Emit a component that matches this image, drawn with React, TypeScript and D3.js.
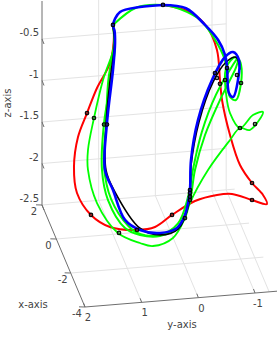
import React from "react";
import * as d3 from "d3";

type P = [number, number];

const xTicks = [2, 0, -2, -4];
const yTicks = [2, 1, 0, -1];
const zTicks = [-0.5, -1, -1.5, -2, -2.5];

// curves: [y-axis reading, z-axis reading] as seen in the view plane
const redCurve: P[] = [[1.517,-.331],[1.499,-.428],[1.57,-.789],[1.799,-1.09],[1.975,-1.392],[2.134,-1.681],[2.205,-2.042],[2.152,-2.355],[1.905,-2.62],[1.57,-2.765],[1.093,-2.801],[.776,-2.765],[.476,-2.62],[.071,-2.452],[-.317,-2.379],[-.582,-2.367],[-.935,-2.44],[-1.199,-2.488],[-1.129,-2.379],[-.935,-2.235],[-.723,-2.018],[-.547,-1.657],[-.406,-1.235],[-.37,-.994],[-.317,-.633],[-.141,-.355],[.159,-.175],[.635,-.09]];

const greenOuter: P[] = [[1.517,-.331],[1.481,-.548],[1.693,-.994],[1.852,-1.452],[1.958,-1.837],[1.958,-2.078],[1.799,-2.476],[1.429,-2.837],[1.041,-2.958],[.811,-2.994],[.459,-2.897],[.247,-2.657],[.159,-2.476],[-.159,-2.078],[-.547,-1.717],[-.723,-1.572],[-.899,-1.596],[-1.129,-1.379],[-.952,-1.416],[-.723,-1.572],[-.547,-1.392],[-.476,-1.151],[-.459,-.91],[-.494,-.825],[-.635,-.72],[-.705,-.77]];

const greenBandA: P[] = [[1.517,-.331],[1.481,-.548],[1.552,-.994],[1.675,-1.512],[1.711,-2.078],[1.605,-2.44],[1.305,-2.777],[1.041,-2.861],[.688,-2.873],[.335,-2.741],[.159,-2.44],[.071,-2.078],[-.106,-1.657],[-.37,-1.235],[-.635,-.873],[-.705,-.753],[-.741,-.81],[-.741,-1.03],[-.653,-1.235],[-.547,-1.199],[-.494,-.994],[-.476,-.8],[-.335,-.57],[-.018,-.27],[.335,-.14],[.635,-.09],[1.1,-.12],[1.517,-.331]];

const greenBandB: P[] = [[1.517,-.331],[1.499,-.55],[1.6,-1.0],[1.64,-1.512],[1.675,-2.042],[1.55,-2.43],[1.25,-2.75],[1.041,-2.85],[.688,-2.86],[.37,-2.72],[.2,-2.42],[.1,-2.05],[-.05,-1.62],[-.3,-1.17],[-.6,-.81],[-.68,-.73]];

const blackCurve: P[] = [[1.517,-.35],[1.49,-.55],[1.57,-1.0],[1.64,-1.54],[1.64,-2.08],[1.5,-2.32],[1.041,-2.78],[.688,-2.86],[.37,-2.79],[.175,-2.476],[.14,-2.02],[0,-1.5],[-.247,-1.02],[-.476,-.78],[-.653,-.72],[-.723,-.87]];

const blueCurve: P[] = [[.635,-.09],[.23,-.13],[-.106,-.33],[-.335,-.51],[-.459,-.69],[-.494,-.83],[-.529,-1.151],[-.6,-1.199],[-.688,-.994],[-.705,-.753],[-.6,-.657],[-.459,-.717],[-.229,-.994],[.018,-1.476],[.141,-1.958],[.159,-2.319],[.194,-2.476],[.247,-2.62],[.388,-2.777],[.688,-2.837],[1.041,-2.801],[1.305,-2.68],[1.517,-2.32],[1.658,-2.078],[1.623,-1.512],[1.517,-.873],[1.481,-.548],[1.49,-.4],[1.517,-.331],[1.393,-.175],[1.041,-.115],[.635,-.09]];

const nodes: P[] = [[1.517,-.331],[.635,-.09],[1.975,-1.392],[1.852,-1.452],[1.675,-1.53],[1.623,-1.53],[1.905,-2.62],[1.411,-2.837],[1.093,-2.801],[.476,-2.62],[.247,-2.657],[-.935,-2.44],[-.935,-2.235],[.159,-2.319],[.159,-2.355],[.159,-2.4],[.159,-2.44],[-.282,-.91],[-.317,-.97],[-.37,-1.04],[-.459,-.994],[-.494,-.85],[-.67,-.934],[-.741,-1.03],[-.723,-1.572],[-.988,-1.525]];

const curves = [
  { data: redCurve, color: "#ff0000", width: 2 },
  { data: greenOuter, color: "#00ff00", width: 1.8 },
  { data: greenBandA, color: "#00ff00", width: 2 },
  { data: greenBandB, color: "#00ff00", width: 2 },
  { data: blackCurve, color: "#000000", width: 1.6 },
  { data: blueCurve, color: "#0000ff", width: 2.6 },
];

// view-plane scales for the curves
const hScale = d3.scaleLinear().domain([0, 1]).range([199, 142.3]);
const vScale = d3.scaleLinear().domain([-0.5, -2.5]).range([39, 205]);

// box projection for the axes
const xStep = d3.scaleLinear().domain([2, -4]).range([0, 1]);
const yStep = d3.scaleLinear().domain([2, -1]).range([0, 1]);
const zStep = d3.scaleLinear().domain([-2.5, -0.5]).range([0, 1]);
const project = (x: number, y: number, z: number): P => [
  42 + 43 * xStep(x) + 170 * yStep(y) + 0 * zStep(z),
  205 + 102 * xStep(x) - 14 * yStep(y) - 166 * zStep(z),
];

const seg = (a: P, b: P, color: string, w: number, key: string) => (
  <line key={key} x1={a[0]} y1={a[1]} x2={b[0]} y2={b[1]} stroke={color} strokeWidth={w} />
);

const GRID = "#e3e3e3";
const AXIS = "#6e6e6e";
const TEXT = "#444444";
const zTop = -0.5 + 38 / 83;

export default function App() {
  const line = d3
    .line<P>()
    .x((d) => hScale(d[0]))
    .y((d) => vScale(d[1]))
    .curve(d3.curveCatmullRom.alpha(0.5));
  const xEdge = -1.0 / 6;
  return (
    <svg
      width={277}
      height={338}
      style={{ position: "absolute", left: 0, top: 0, background: "#fff" }}
      fontFamily="DejaVu Sans, sans-serif"
      fontSize={10}
    >
      <g>
        {zTicks.slice(0, 4).map((z) =>
          seg(project(2, 2, z), project(2, -1.25, z), GRID, 1, `wz${z}`)
        )}
        {[1, 0, -1].map((y) =>
          seg(project(2, y, -2.5), project(2, y, zTop), GRID, 1, `wy${y}`)
        )}
        {seg(project(2, -1.25, -2.5), project(2, -1.25, zTop), GRID, 1, "wc")}
        {seg(project(2, -1.25, -2.5), project(-4, -1.25, -2.5), GRID, 1, "fr")}
        {[2, 0, -2].map((x) =>
          seg(project(x, 2, -2.5), project(x, -1.4, -2.5), GRID, 1, `fx${x}`)
        )}
        {[1, 0, -1].map((y) =>
          seg(project(2, y, -2.5), project(-4, y, -2.5), GRID, 1, `fy${y}`)
        )}
        {seg(project(2, 2, -2.5), project(2, 2, zTop), AXIS, 1, "za")}
        {seg(project(2, 2, -2.5), project(-4, 2, -2.5), AXIS, 1, "xa")}
        {seg(project(-4, 2, -2.5), project(-4, -1.4, -2.5), AXIS, 1, "ya")}
        {xTicks.map((x) => {
          const p = project(x, 2, -2.5);
          return seg(p, [p[0] - 6, p[1] + xEdge], AXIS, 1, `xt${x}`);
        })}
        {yTicks.map((y) => {
          const p = project(-4, y, -2.5);
          return seg(p, [p[0] - 1.5, p[1] - 4], AXIS, 1, `yt${y}`);
        })}
        {zTicks.map((z) => {
          const p = project(2, 2, z);
          return seg(p, [p[0] + 2, p[1] + 5], AXIS, 1, `zt${z}`);
        })}
      </g>
      {curves.map((c, i) => (
        <path key={i} d={line(c.data) ?? ""} fill="none" stroke={c.color} strokeWidth={c.width} strokeLinejoin="round" />
      ))}
      {nodes.map((n, i) => (
        <circle key={i} cx={hScale(n[0])} cy={vScale(n[1])} r={1.8} fill="#2a2a2a" fillOpacity={0.55} stroke="#000" strokeWidth={1.1} />
      ))}
      <g fill={TEXT}>
        {zTicks.map((z) => {
          const p = project(2, 2, z);
          return <text key={z} x={p[0] - 3} y={p[1] - 3} textAnchor="end">{z}</text>;
        })}
        {xTicks.map((x) => {
          const p = project(x, 2, -2.5);
          return <text key={x} x={p[0] - 8} y={p[1] + 10} textAnchor="middle">{x}</text>;
        })}
        {yTicks.map((y) => {
          const p = project(-4, y, -2.5);
          return <text key={y} x={p[0] + 3} y={p[1] + 14} textAnchor="middle">{y}</text>;
        })}
        <text x={33} y={308} textAnchor="middle">x-axis</text>
        <text x={182} y={328} textAnchor="middle">y-axis</text>
        <text transform="translate(11,103) rotate(-90)" textAnchor="middle">z-axis</text>
      </g>
    </svg>
  );
}
